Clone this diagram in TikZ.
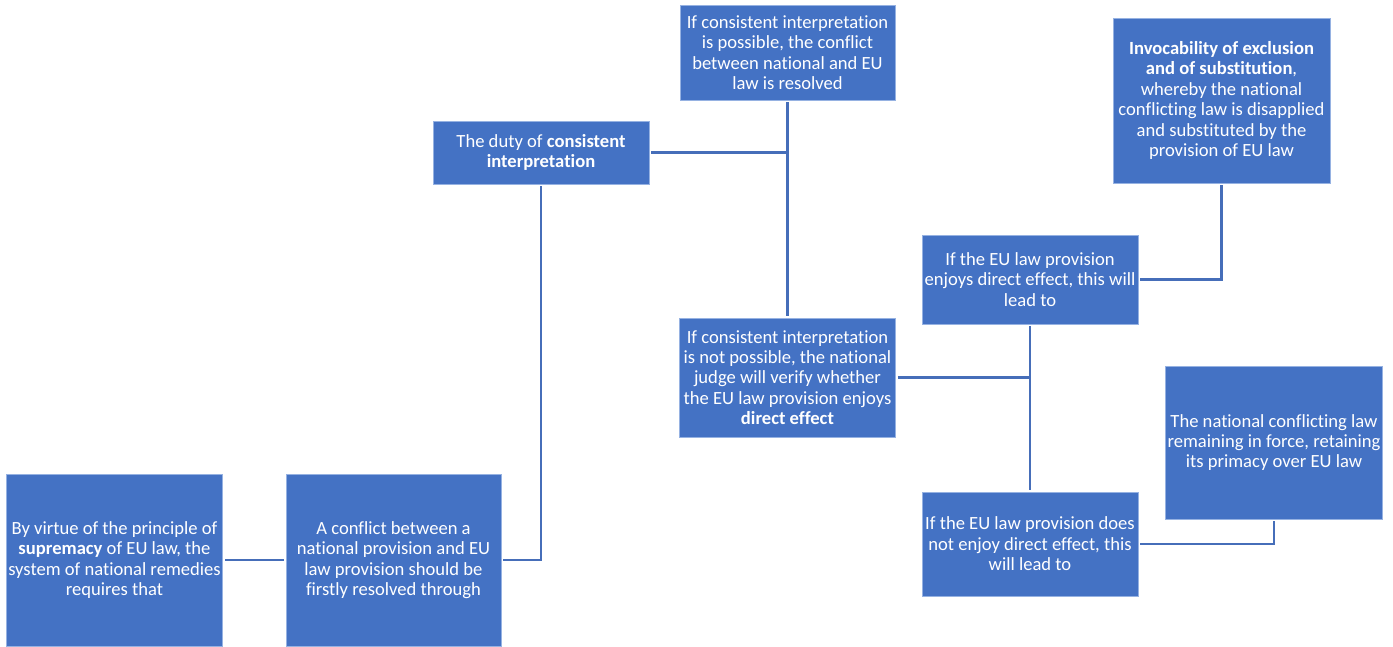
\documentclass[tikz,border=0pt]{standalone}
\usepackage{fontspec}
\setmainfont{Carlito}[Ligatures=NoCommon]
\usepackage{tikz}
\usetikzlibrary{calc,positioning}
\definecolor{officeblue}{RGB}{68,114,196}
\definecolor{edgeblue}{RGB}{150,178,226}
\definecolor{linkblue}{RGB}{70,110,185}
\tikzset{
  caja/.style={
    rectangle,
    draw=edgeblue,
    line width=0.8pt,
    fill=officeblue,
    text=white,
    align=center,
    inner sep=2pt,
    font=\fontsize{18.6}{20.4}\selectfont
  },
  enlace/.style={
    line width=2.6pt,
    linkblue,
    shorten <=2pt,
    shorten >=2pt
  }
}
\begin{document}
\begin{tikzpicture}[x=1pt,y=-1pt]
\useasboundingbox (0,0) rectangle (1393,646);
% left column
\node[caja, minimum width=215pt, minimum height=172pt] (a) at (114.5,560) {By virtue of the principle of\\\textbf{supremacy} of EU law, the\\system of national remedies\\requires that};
\node[caja, minimum width=215pt, minimum height=172pt] (b) at (393.5,560) {A conflict between a\\national provision and EU\\law provision should be\\firstly resolved through};
\node[caja, minimum width=216pt, minimum height=63pt] (c) at (541,152.5) {The duty of \textbf{consistent}\\\textbf{interpretation}};
% consistent interpretation
\node[caja, minimum width=215pt, minimum height=95pt] (d) at (787.5,52.5) {If consistent interpretation\\is possible, the conflict\\between national and EU\\law is resolved};
\node[caja, minimum width=216pt, minimum height=119pt] (e) at (787.5,377.5) {If consistent interpretation\\is not possible, the national\\judge will verify whether\\the EU law provision enjoys\\\textbf{direct effect}};
% direct effect
\node[caja, minimum width=216pt, minimum height=89pt] (f) at (1030,279.5) {If the EU law provision\\enjoys direct effect, this will\\lead to};
\node[caja, minimum width=216pt, minimum height=104pt] (g) at (1030,544) {If the EU law provision does\\not enjoy direct effect, this\\will lead to};
\node[caja, minimum width=217pt, minimum height=165pt] (h) at (1221.5,100.5) {\textbf{Invocability of exclusion}\\\textbf{and of substitution},\\whereby the national\\conflicting law is disapplied\\and substituted by the\\provision of EU law};
\node[caja, minimum width=216pt, minimum height=153pt] (i) at (1274,442.5) {The national conflicting law\\remaining in force, retaining\\its primacy over EU law};
% connectors
\draw[enlace] (a.east) -- (b.west);
\draw[enlace] (b.east) -| (c.south);
\draw[enlace] (c.east) -| (d.south);
\draw[enlace] (d.south) -- (e.north);
\draw[enlace] (e.east) -| (f.south);
\draw[enlace] (f.south) -- (g.north);
\draw[enlace] (f.east) -| (h.south);
\draw[enlace] (g.east) -| (i.south);
\end{tikzpicture}
\end{document}
